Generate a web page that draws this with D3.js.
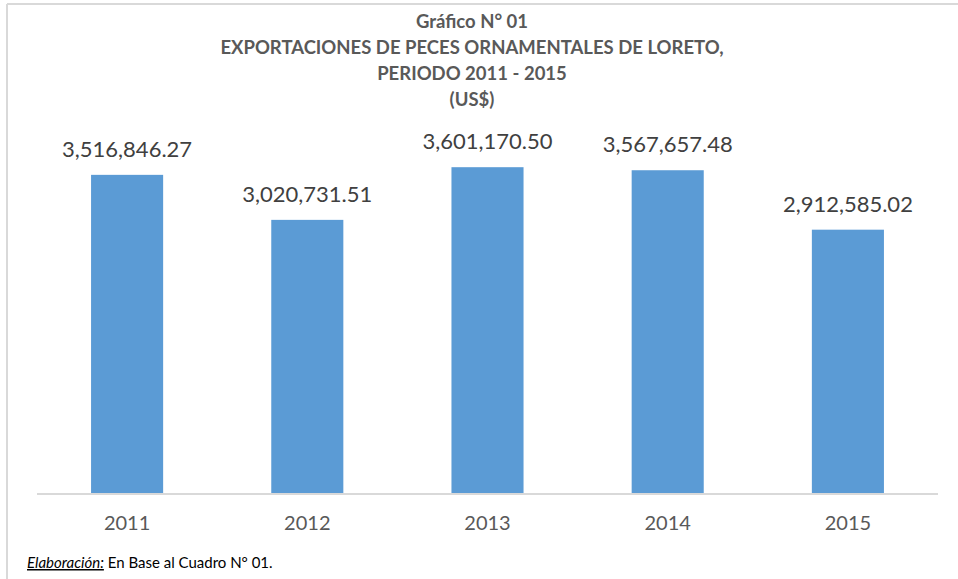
<!DOCTYPE html>
<html><head><meta charset="utf-8">
<script src="https://cdn.jsdelivr.net/npm/d3@7"></script>
<style>body{margin:0;background:#fff;} svg{display:block;font-family:"Lato","Open Sans",sans-serif;}</style>
</head><body>
<script>
const years = ["2011","2012","2013","2014","2015"];
const values = [3516846.27, 3020731.51, 3601170.50, 3567657.48, 2912585.02];
const titleLines = ["Gráfico N° 01","EXPORTACIONES DE PECES ORNAMENTALES DE LORETO,","PERIODO 2011 - 2015","(US$)"];

const W = 958, H = 579;
const svg = d3.select("body").append("svg").attr("width", W).attr("height", H);

// frame
svg.append("line").attr("x1",7).attr("x2",W).attr("y1",4).attr("y2",4).attr("stroke","#d9d9d9").attr("stroke-width",2);
svg.append("line").attr("x1",7).attr("x2",7).attr("y1",4).attr("y2",H).attr("stroke","#d9d9d9").attr("stroke-width",2);

const x = d3.scaleBand().domain(years).range([37, 938]).paddingInner(0.6).paddingOuter(0.3);
const y = d3.scaleLinear().domain([0, 4000000]).range([494, 131]);

svg.selectAll("rect.bar").data(values).join("rect").attr("class","bar")
  .attr("x",(d,i)=>x(years[i])).attr("width",x.bandwidth())
  .attr("y",d=>y(d)).attr("height",d=>y(0)-y(d)).attr("fill","#5b9bd5");

// axis
const xAxis = svg.append("g").attr("transform","translate(0,494)").call(d3.axisBottom(x).tickSize(0).tickPadding(22));
xAxis.select(".domain").attr("stroke","#d9d9d9").attr("stroke-width",2).attr("d","M37,0H938");
xAxis.selectAll("text").attr("fill","#595959").attr("font-size",20).attr("font-family","Lato, 'Open Sans', sans-serif");

const fmt = d3.format(",.2f");
svg.selectAll("text.val").data(values).join("text").attr("class","val")
  .attr("x",(d,i)=>x(years[i])+x.bandwidth()/2).attr("y",d=>y(d)-18)
  .attr("text-anchor","middle").attr("font-size",22).attr("fill","#404040").text(d=>fmt(d));

// title
svg.selectAll("text.title").data(titleLines).join("text").attr("class","title")
  .attr("x",472).attr("y",(d,i)=>28+i*26).attr("text-anchor","middle")
  .attr("font-size",18.5).attr("font-weight","bold").attr("fill","#595959").text(d=>d);

// footer
const f = svg.append("text").attr("x",27).attr("y",568).attr("font-size",15).attr("fill","#000");
f.append("tspan").attr("font-style","italic").attr("text-decoration","underline").text("Elaboración:");
f.append("tspan").text(" En Base al Cuadro N° 01.");
</script>
</body></html>
